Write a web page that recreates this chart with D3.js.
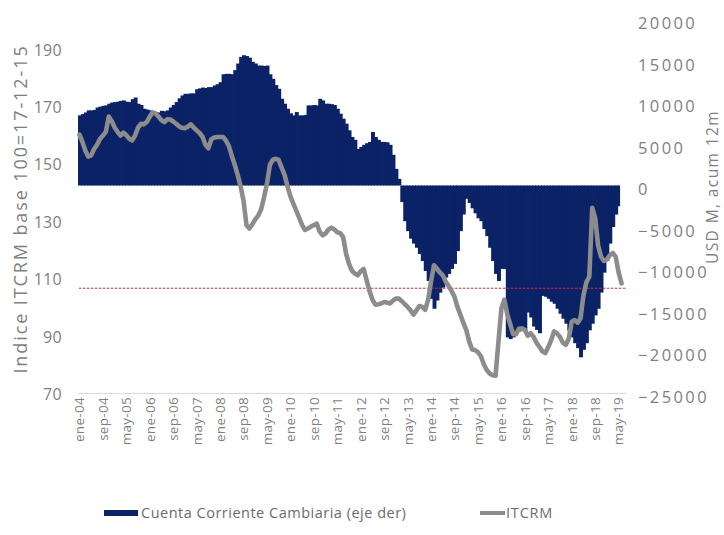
<!DOCTYPE html>
<html>
<head>
<meta charset="utf-8">
<script src="https://cdn.jsdelivr.net/npm/d3@7"></script>
<style>
  html, body { margin: 0; padding: 0; background: #fff; }
  svg { display: block; font-family: "Open Sans", "DejaVu Sans", sans-serif; }
</style>
</head>
<body>
<svg id="chart" width="724" height="535"></svg>
<script>
// Month names and first year of the monthly series (ene-04 .. jun-19)
const monthNames = ["ene","feb","mar","abr","may","jun","jul","ago","sep","oct","nov","dic"];
const startYear = 2004;
const monthCount = 186;

// Current account (USD M, 12-month accumulated), ene-04 .. may-19
const cuentaCorriente = [
  8450, 8600, 8800, 9050, 9050, 9100, 9400, 9500, 9600, 9650, 9850, 10000,
  10050, 10100, 10200, 10250, 10100, 10050, 10400, 10600, 9850, 9700, 9250, 9150,
  9050, 8850, 8850, 8800, 9000, 8950, 9050, 9400, 9700, 10050, 10500, 10850,
  11050, 11050, 11100, 11100, 11600, 11700, 11800, 11750, 11850, 11850, 12050, 12200,
  12450, 13400, 13450, 13450, 13400, 13900, 14700, 15500, 15700, 15600, 15400, 14900,
  14700, 14450, 14450, 14400, 14450, 13400, 12850, 12100, 11650, 10450, 9850, 9250,
  8700, 8450, 8850, 8450, 8450, 8500, 9650, 9650, 9700, 9650, 10450, 10250,
  9850, 9850, 9800, 9700, 9250, 8650, 8050, 7450, 6650, 5850, 5500, 4400,
  4650, 4900, 5100, 5250, 6450, 5850, 5500, 5250, 5250, 5200, 4900, 3700,
  2000, 800, -2000, -4300, -5500, -6400, -7000, -7500, -8250, -9100, -10300, -11500,
  -13650, -14850, -13850, -12900, -12300, -11100, -10650, -10050, -9450, -7900, -5500, -3500,
  -1600, -2100, -2750, -3350, -3950, -4300, -5250, -6100, -7500, -9100, -10650, -11500,
  -10050, -10050, -18300, -18500, -18300, -17800, -17600, -17500, -17600, -15300, -15900, -17000,
  -17400, -17800, -13300, -13400, -13650, -14000, -14250, -14850, -15450, -16050, -16650, -17500,
  -18300, -19000, -19600, -20700, -19800, -19000, -17450, -16650, -15650, -14850, -12900, -10500,
  -9100, -7000, -5000, -3500, -2500
];

// ITCRM index (base 100 = 17-12-15), ene-04 .. jun-19
const itcrm = [
  160, 157.5, 154.5, 152.4, 152.8, 155, 156.5, 158.5, 159.7, 161, 166.3, 164.8,
  162.5, 161, 159.7, 160.7, 159.8, 158.6, 158, 159.8, 162.5, 163.8, 163.6, 164.5,
  166.3, 167.8, 167.4, 166.3, 165, 164.4, 165.4, 165.3, 164.6, 163.8, 162.9, 162.4,
  162.3, 162.8, 163.6, 162.5, 161.5, 160.6, 159.3, 156.5, 155.3, 158.4, 159, 159.2,
  159.2, 159.2, 158, 156, 152.6, 149.5, 146, 142, 137, 128.5, 127.3, 128.8,
  130.5, 131.8, 134, 138.2, 143, 149.5, 151.3, 151.6, 151.2, 148.5, 146, 142,
  138.5, 136, 133.5, 131, 128.5, 126.8, 127.3, 128, 128.5, 129, 126.2, 125,
  125.6, 127, 127.6, 127, 126, 125.7, 124.3, 118.5, 115, 112.6, 111.6, 111,
  112.5, 113.2, 109.3, 105.5, 102.5, 100.8, 100.9, 101.2, 101.7, 101.5, 101.2, 102.2,
  102.9, 102.9, 102, 101, 100, 98.8, 97.3, 98.8, 100.3, 100, 99, 102.5,
  109, 114.5, 113.3, 112, 111, 108.8, 107.3, 105.5, 103.5, 100, 97.3, 94.5,
  92, 88, 85.2, 85, 84.2, 82.8, 80, 78, 76.8, 76.2, 76, 88,
  99.5, 102.5, 97.5, 94, 90.5, 90.5, 92.4, 92.5, 92, 90, 90.8, 89.5,
  87.5, 86, 84.5, 83.9, 86, 88.5, 91.5, 90.8, 89.5, 87.5, 86.8, 89,
  94.8, 95.4, 94.5, 96, 104, 108.6, 110.5, 134.5, 131, 121.5, 117.5, 116,
  116.5, 118, 118.8, 117.5, 112, 108.2
];

// Reference level drawn as a dotted line on the left axis
const referenceLevel = 106.5;

// Axis ticks
const leftTicks = [70, 90, 110, 130, 150, 170, 190];
const rightTicks = [-25000, -20000, -15000, -10000, -5000, 0, 5000, 10000, 15000, 20000];
const tickEvery = 8;

const seriesNames = ["Cuenta Corriente Cambiaria (eje der)", "ITCRM"];
const leftTitle = "Indice ITCRM base 100=17-12-15";
const rightTitle = "USD M, acum 12m";

// Month categories
const months = d3.range(monthCount).map(i =>
  monthNames[i % 12] + "-" + String((startYear + Math.floor(i / 12)) % 100).padStart(2, "0"));

const navy = "#0b2366";
const gray = "#8c8c8c";
const textGray = "#7f7f7f";

const svg = d3.select("#chart");

const x = d3.scaleBand().domain(months).range([78, 623]).padding(0);
const yL = d3.scaleLinear().domain([70, 190]).range([393, 48.6]);
const yR = d3.scaleLinear().domain([-25000, 20000]).range([393, 19.5]);

// Bars (right axis); each bar overlaps the next by a pixel so no seams show
const lastIndex = cuentaCorriente.length - 1;
svg.append("g")
  .selectAll("rect")
  .data(cuentaCorriente)
  .join("rect")
  .attr("x", (d, i) => x(months[i]))
  .attr("width", (d, i) => x.bandwidth() + (i < lastIndex ? 1 : 0))
  .attr("y", d => Math.min(yR(d), yR(0)))
  .attr("height", d => Math.abs(yR(d) - yR(0)))
  .attr("fill", navy);

// X axis baseline
svg.append("line")
  .attr("x1", 78).attr("x2", 626)
  .attr("y1", 393.5).attr("y2", 393.5)
  .attr("stroke", "#d9d9d9").attr("stroke-width", 1);

// Dotted reference line
svg.append("line")
  .attr("x1", 79).attr("x2", 626)
  .attr("y1", yL(referenceLevel)).attr("y2", yL(referenceLevel))
  .attr("stroke", "#d8283e").attr("stroke-width", 1)
  .attr("stroke-dasharray", "2.5,1.5");

// ITCRM line (left axis)
const line = d3.line()
  .x((d, i) => x(months[i]) + x.bandwidth() / 2)
  .y(d => yL(d));

svg.append("path")
  .datum(itcrm)
  .attr("d", line)
  .attr("fill", "none")
  .attr("stroke", gray)
  .attr("stroke-width", 4.6)
  .attr("stroke-linejoin", "round")
  .attr("stroke-linecap", "round");

// Left axis labels
const leftAxis = d3.axisLeft(yL).tickValues(leftTicks).tickSize(0).tickPadding(0);
const gL = svg.append("g").attr("transform", "translate(62,0)").call(leftAxis);
gL.select(".domain").remove();
gL.selectAll("text")
  .attr("fill", textGray)
  .attr("font-size", 16)
  .attr("font-family", "'Open Sans', sans-serif")
  .attr("letter-spacing", "0.3px")
  .attr("dy", "0.4em");

// Right axis labels
const rightAxis = d3.axisRight(yR).tickValues(rightTicks).tickSize(0).tickPadding(0)
  .tickFormat(d3.format("d"));
const gR = svg.append("g").attr("transform", "translate(638,0)").call(rightAxis);
gR.select(".domain").remove();
gR.selectAll("text")
  .attr("fill", textGray)
  .attr("font-size", 16.5)
  .attr("font-family", "'Open Sans', sans-serif")
  .attr("letter-spacing", "2.4px")
  .attr("dy", "0.55em");

// X axis labels (every 8 months, vertical)
const xAxis = d3.axisBottom(x)
  .tickValues(months.filter((m, i) => i % tickEvery === 0))
  .tickSize(0).tickPadding(0);
const gX = svg.append("g").attr("transform", "translate(0,397)").call(xAxis);
gX.select(".domain").remove();
gX.selectAll("text")
  .attr("fill", textGray)
  .attr("font-size", 13.5)
  .attr("font-family", "'Open Sans', sans-serif")
  .attr("letter-spacing", "0.3px")
  .attr("text-anchor", "end")
  .attr("transform", "rotate(-90)")
  .attr("x", 0)
  .attr("y", 0)
  .attr("dy", "0.36em");

// Axis titles
svg.append("text")
  .attr("transform", "translate(27,209) rotate(-90)")
  .attr("text-anchor", "middle")
  .attr("fill", textGray)
  .attr("font-size", 18)
  .attr("letter-spacing", "1.9px")
  .text(leftTitle);

svg.append("text")
  .attr("transform", "translate(718,187) rotate(-90)")
  .attr("text-anchor", "middle")
  .attr("fill", textGray)
  .attr("font-size", 15.5)
  .attr("letter-spacing", "1.4px")
  .text(rightTitle);

// Legend
const legend = svg.append("g");
legend.append("rect")
  .attr("x", 104).attr("y", 510).attr("width", 34).attr("height", 6)
  .attr("fill", navy);
legend.append("text")
  .attr("x", 141).attr("y", 518)
  .attr("fill", "#6b6b6b")
  .attr("font-size", 14.5)
  .attr("letter-spacing", "0.5px")
  .text(seriesNames[0]);
legend.append("line")
  .attr("x1", 480).attr("x2", 505).attr("y1", 513).attr("y2", 513)
  .attr("stroke", gray).attr("stroke-width", 4);
legend.append("text")
  .attr("x", 506).attr("y", 518)
  .attr("fill", "#6b6b6b")
  .attr("font-size", 14.5)
  .attr("letter-spacing", "0.8px")
  .text(seriesNames[1]);
</script>
</body>
</html>
